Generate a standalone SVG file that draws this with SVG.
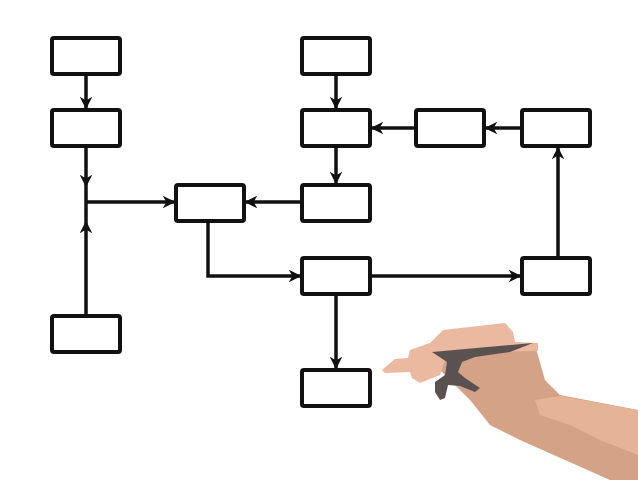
<svg xmlns="http://www.w3.org/2000/svg" width="638" height="480" viewBox="0 0 638 480">
<defs>
<style>
.b{fill:#fff;stroke:#111;stroke-width:4}
.c{fill:none;stroke:#111;stroke-width:3.5;marker-end:url(#ah)}
.l{fill:none;stroke:#111;stroke-width:3.5}
</style>
<marker id="ah" viewBox="0 0 10 10" refX="9" refY="5" markerWidth="3.6" markerHeight="3.6" orient="auto"><path d="M0,0 L10,5 L0,10 L3,5 Z" fill="#111"/></marker>
</defs>
<rect width="638" height="480" fill="#fff"/>
<g id="connectors">
<path class="c" d="M86,74V108"/>
<path class="c" d="M86,146V186"/>
<path class="l" d="M86,186V202"/>
<path class="c" d="M86,316V222"/>
<path class="l" d="M86,222V202"/>
<path class="c" d="M86,202H174"/>
<path class="c" d="M302,202H246"/>
<path class="c" d="M336,74V108"/>
<path class="c" d="M336,146V183"/>
<path class="c" d="M416,128H372"/>
<path class="c" d="M522,128H486"/>
<path class="c" d="M558,258V148"/>
<path class="c" d="M208,221V276H300"/>
<path class="c" d="M370,276H520"/>
<path class="c" d="M336,294V368"/>
</g>
<g id="nA"><rect class="b" x="52" y="38" width="68" height="36" rx="2"/></g>
<g id="nB"><rect class="b" x="52" y="110" width="68" height="36" rx="2"/></g>
<g id="nC"><rect class="b" x="52" y="316" width="68" height="36" rx="2"/></g>
<g id="nD"><rect class="b" x="176" y="185" width="68" height="36" rx="2"/></g>
<g id="nE"><rect class="b" x="302" y="38" width="68" height="36" rx="2"/></g>
<g id="nF"><rect class="b" x="302" y="110" width="68" height="36" rx="2"/></g>
<g id="nG"><rect class="b" x="302" y="185" width="68" height="36" rx="2"/></g>
<g id="nH"><rect class="b" x="416" y="110" width="68" height="36" rx="2"/></g>
<g id="nI"><rect class="b" x="522" y="110" width="68" height="36" rx="2"/></g>
<g id="nJ"><rect class="b" x="302" y="258" width="68" height="36" rx="2"/></g>
<g id="nK"><rect class="b" x="522" y="258" width="68" height="36" rx="2"/></g>
<g id="nL"><rect class="b" x="302" y="370" width="68" height="36" rx="2"/></g>
<g id="hand">
<path fill="#d4a287" d="M440,350L535,345L545,380L560,395L638,410L638,480L610,480L520,440L490,425L470,400L455,385L440,370Z"/>
<path fill="#e5b497" d="M535,400L560,396L638,410L638,455L600,440L570,425L540,415Z"/>
<path fill="#ebb8a0" d="M382,370L395,359L408,358L410,350L430,343L443,330L505,323L513,332L515,342L538,343L538,351L470,352L445,360L440,375L420,383L412,378L410,372L385,373Z"/>
<path fill="#5a5250" d="M432,352L533,343L510,352L475,357L462,362L458,372L465,378L480,388L475,392L460,386L448,385L445,398L440,400L435,392L435,382L445,375L447,362Z"/>
</g>
</svg>
